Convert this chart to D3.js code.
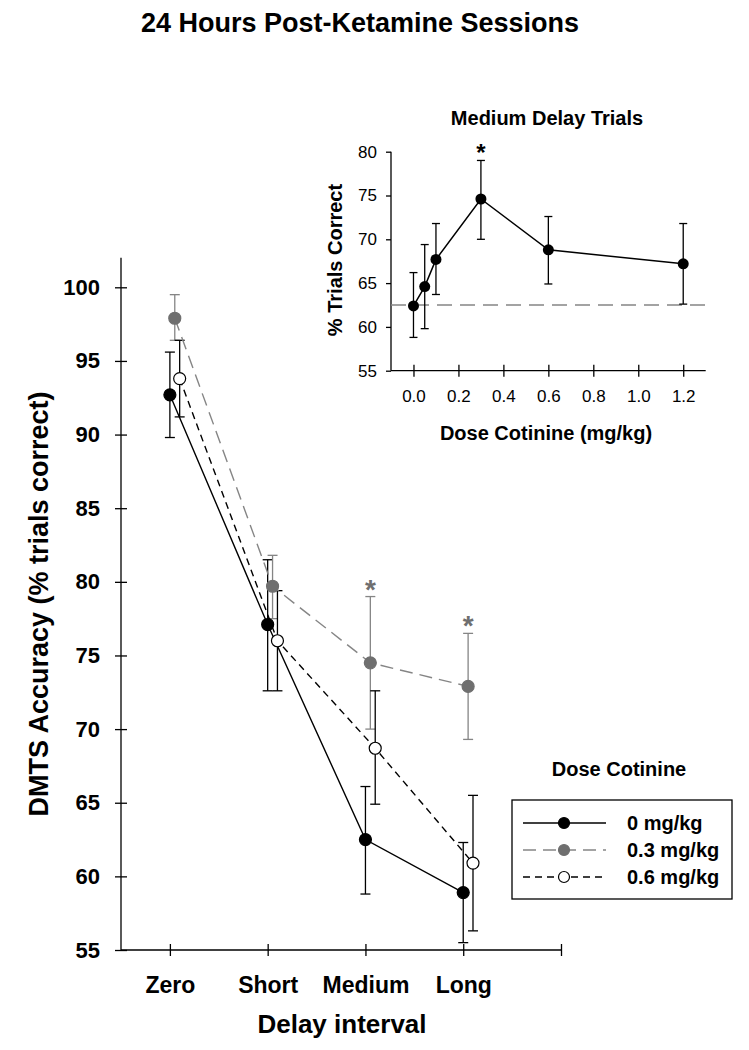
<!DOCTYPE html>
<html>
<head>
<meta charset="utf-8">
<script src="https://cdn.jsdelivr.net/npm/d3@7"></script>
<style>
  html, body { margin: 0; padding: 0; background: #fff; }
  svg { display: block; font-family: "Liberation Sans", Arial, sans-serif; }
</style>
</head>
<body>
<svg id="chart" width="749" height="1050"></svg>
<script>
// ---------- Main chart data ----------
const categories = ["Zero", "Short", "Medium", "Long"];
const seriesNames = ["0 mg/kg", "0.3 mg/kg", "0.6 mg/kg"];
const yTicksMain = [55, 60, 65, 70, 75, 80, 85, 90, 95, 100];

const mean0  = [92.7, 77.1, 62.5, 58.9];
const hi0    = [95.6, 81.5, 66.1, 62.3];
const lo0    = [89.8, 72.6, 58.8, 55.5];

const mean03 = [97.9, 79.7, 74.5, 72.9];
const hi03   = [99.5, 81.8, 79.0, 76.5];
const lo03   = [96.4, 77.5, 70.0, 69.3];

const mean06 = [93.8, 76.0, 68.7, 60.9];
const hi06   = [96.4, 79.4, 72.6, 65.5];
const lo06   = [91.2, 72.6, 64.9, 56.3];

const sigMain = ["Medium", "Long"]; // asterisks for 0.3 mg/kg

// ---------- Inset data ----------
const doses     = [0, 0.05, 0.1, 0.3, 0.6, 1.2];
const insetMean = [62.4, 64.6, 67.7, 74.6, 68.8, 67.2];
const insetHi   = [66.2, 69.4, 71.8, 79.0, 72.6, 71.8];
const insetLo   = [58.8, 59.8, 63.7, 70.0, 64.9, 62.6];
const insetBaseline = 62.5;
const insetXTicks = [0, 0.2, 0.4, 0.6, 0.8, 1.0, 1.2];
const insetYTicks = [55, 60, 65, 70, 75, 80];
const sigInset = [0.3];

// ---------- Setup ----------
const svg = d3.select("#chart");
const BLACK = "#000";
const GRAYM = "#6f6f6f";
const GRAYL = "#858585";

// Main scales
const x = d3.scaleLinear().domain([0.5, 5]).range([121, 561]);
const y = d3.scaleLinear().domain([55, 100]).range([950, 287.3]);

// Title
svg.append("text").attr("x", 360).attr("y", 32).attr("text-anchor", "middle")
  .attr("font-size", 27).attr("font-weight", "bold").text("24 Hours Post-Ketamine Sessions");

// Main axes
svg.append("line").attr("x1", x(0.5)).attr("x2", x(0.5))
  .attr("y1", y(102)).attr("y2", y(55)).attr("stroke", BLACK).attr("stroke-width", 1.3);
svg.append("line").attr("x1", x(0.5)).attr("x2", x(5))
  .attr("y1", y(55)).attr("y2", y(55)).attr("stroke", BLACK).attr("stroke-width", 1.3);

const yAxisG = svg.append("g").attr("transform", `translate(${x(0.5)},0)`)
  .call(d3.axisLeft(y).tickValues(yTicksMain).tickSize(6).tickPadding(15).tickFormat(d3.format("d")));
yAxisG.select(".domain").remove();
yAxisG.selectAll(".tick line").attr("x1", 6).attr("x2", -6).attr("stroke-width", 1.3);
yAxisG.selectAll(".tick text").attr("font-size", 22).attr("font-weight", "bold")
  .attr("font-family", "Liberation Sans, Arial, sans-serif").attr("fill", BLACK);

const xAxisG = svg.append("g").attr("transform", `translate(0,${y(55)})`)
  .call(d3.axisBottom(x).tickValues([1, 2, 3, 4, 5]).tickSize(6).tickPadding(21)
    .tickFormat(d => categories[d - 1] || ""));
xAxisG.select(".domain").remove();
xAxisG.selectAll(".tick line").attr("y1", -6).attr("y2", 6).attr("stroke-width", 1.3);
xAxisG.selectAll(".tick text").attr("font-size", 23).attr("font-weight", "bold")
  .attr("font-family", "Liberation Sans, Arial, sans-serif").attr("fill", BLACK);

// Axis titles
svg.append("text").attr("x", 342).attr("y", 1033).attr("text-anchor", "middle")
  .attr("font-size", 26).attr("font-weight", "bold").text("Delay interval");
svg.append("text").attr("transform", "translate(48,604) rotate(-90)").attr("text-anchor", "middle")
  .attr("font-size", 27).attr("font-weight", "bold").text("DMTS Accuracy (% trials correct)");

// Series definitions
const series = [
  { name: seriesNames[0], mean: mean0,  hi: hi0,  lo: lo0,  off: 0,   line: BLACK, dash: null,  fill: BLACK, stroke: BLACK, err: BLACK },
  { name: seriesNames[1], mean: mean03, hi: hi03, lo: lo03, off: 0.05, line: GRAYL, dash: "13,7", fill: GRAYM, stroke: GRAYM, err: GRAYL },
  { name: seriesNames[2], mean: mean06, hi: hi06, lo: lo06, off: 0.1,  line: BLACK, dash: "7,5",  fill: "#fff", stroke: BLACK, err: BLACK }
];

const capW = 5;
// Error bars
series.forEach(s => {
  const g = svg.append("g");
  s.mean.forEach((m, i) => {
    const cx = x(i + 1 + s.off);
    g.append("line").attr("x1", cx).attr("x2", cx).attr("y1", y(s.hi[i])).attr("y2", y(s.lo[i]))
      .attr("stroke", s.err).attr("stroke-width", 1.3);
    [s.hi[i], s.lo[i]].forEach(v => {
      g.append("line").attr("x1", cx - capW).attr("x2", cx + capW).attr("y1", y(v)).attr("y2", y(v))
        .attr("stroke", s.err).attr("stroke-width", 1.3);
    });
  });
});
// Lines
series.forEach(s => {
  const line = d3.line().x((d, i) => x(i + 1 + s.off)).y(d => y(d));
  svg.append("path").datum(s.mean).attr("d", line).attr("fill", "none")
    .attr("stroke", s.line).attr("stroke-width", 1.4).attr("stroke-dasharray", s.dash);
});
// Markers
series.forEach(s => {
  svg.append("g").selectAll("circle").data(s.mean).join("circle")
    .attr("cx", (d, i) => x(i + 1 + s.off)).attr("cy", d => y(d)).attr("r", 6)
    .attr("fill", s.fill).attr("stroke", s.stroke).attr("stroke-width", 1.2);
});
// Asterisks (0.3 mg/kg)
sigMain.forEach(c => {
  const i = categories.indexOf(c);
  svg.append("text").attr("x", x(i + 1 + series[1].off)).attr("y", y(hi03[i]) + 2)
    .attr("text-anchor", "middle").attr("font-size", 28).attr("font-weight", "bold")
    .attr("fill", GRAYM).text("*");
});

// Legend
svg.append("text").attr("x", 619).attr("y", 776).attr("text-anchor", "middle")
  .attr("font-size", 20).attr("font-weight", "bold").text("Dose Cotinine");
svg.append("rect").attr("x", 512).attr("y", 800).attr("width", 220).attr("height", 99)
  .attr("fill", "none").attr("stroke", BLACK).attr("stroke-width", 1.3);
const legRows = [823, 850, 877];
series.forEach((s, k) => {
  const ly = legRows[k];
  svg.append("line").attr("x1", 523).attr("x2", 606).attr("y1", ly).attr("y2", ly)
    .attr("stroke", s.line).attr("stroke-width", 1.4).attr("stroke-dasharray", s.dash);
  svg.append("circle").attr("cx", 564).attr("cy", ly).attr("r", 5.5)
    .attr("fill", s.fill).attr("stroke", s.stroke).attr("stroke-width", 1.2);
  svg.append("text").attr("x", 627).attr("y", ly + 7).attr("font-size", 20).attr("font-weight", "bold")
    .text(s.name);
});

// ---------- Inset ----------
const ix = d3.scaleLinear().domain([-0.1, 1.3]).range([391, 705.7]);
const iy = d3.scaleLinear().domain([55, 80]).range([370.7, 151.7]);

svg.append("text").attr("x", 547).attr("y", 125).attr("text-anchor", "middle")
  .attr("font-size", 20).attr("font-weight", "bold").text("Medium Delay Trials");

svg.append("line").attr("x1", ix(-0.1)).attr("x2", ix(-0.1)).attr("y1", iy(80)).attr("y2", iy(55))
  .attr("stroke", BLACK).attr("stroke-width", 1.3);
svg.append("line").attr("x1", ix(-0.1)).attr("x2", ix(1.3)).attr("y1", iy(55)).attr("y2", iy(55))
  .attr("stroke", BLACK).attr("stroke-width", 1.3);

const iyAxis = svg.append("g").attr("transform", `translate(${ix(-0.1)},0)`)
  .call(d3.axisLeft(iy).tickValues(insetYTicks).tickSize(5).tickPadding(9).tickFormat(d3.format("d")));
iyAxis.select(".domain").remove();
iyAxis.selectAll(".tick line").attr("x1", 0).attr("x2", -5).attr("stroke-width", 1.3);
iyAxis.selectAll(".tick text").attr("font-size", 17)
  .attr("font-family", "Liberation Sans, Arial, sans-serif").attr("fill", BLACK);

const ixAxis = svg.append("g").attr("transform", `translate(0,${iy(55)})`)
  .call(d3.axisBottom(ix).tickValues(insetXTicks).tickSize(6).tickPadding(13).tickFormat(d3.format(".1f")));
ixAxis.select(".domain").remove();
ixAxis.selectAll(".tick line").attr("y1", -6).attr("y2", 6).attr("stroke-width", 1.3);
ixAxis.selectAll(".tick text").attr("font-size", 17)
  .attr("font-family", "Liberation Sans, Arial, sans-serif").attr("fill", BLACK);

svg.append("text").attr("x", 546).attr("y", 440).attr("text-anchor", "middle")
  .attr("font-size", 20).attr("font-weight", "bold").text("Dose Cotinine (mg/kg)");
svg.append("text").attr("transform", "translate(342,260) rotate(-90)").attr("text-anchor", "middle")
  .attr("font-size", 20).attr("font-weight", "bold").text("% Trials Correct");

// baseline dashed
svg.append("line").attr("x1", ix(-0.1)).attr("x2", ix(1.3)).attr("y1", iy(insetBaseline)).attr("y2", iy(insetBaseline))
  .attr("stroke", GRAYL).attr("stroke-width", 1.3).attr("stroke-dasharray", "15,8");

// error bars
doses.forEach((d, i) => {
  const cx = ix(d);
  svg.append("line").attr("x1", cx).attr("x2", cx).attr("y1", iy(insetHi[i])).attr("y2", iy(insetLo[i]))
    .attr("stroke", BLACK).attr("stroke-width", 1.3);
  [insetHi[i], insetLo[i]].forEach(v => {
    svg.append("line").attr("x1", cx - 4).attr("x2", cx + 4).attr("y1", iy(v)).attr("y2", iy(v))
      .attr("stroke", BLACK).attr("stroke-width", 1.3);
  });
});
svg.append("path").datum(insetMean)
  .attr("d", d3.line().x((d, i) => ix(doses[i])).y(d => iy(d)))
  .attr("fill", "none").attr("stroke", BLACK).attr("stroke-width", 1.5);
svg.append("g").selectAll("circle").data(insetMean).join("circle")
  .attr("cx", (d, i) => ix(doses[i])).attr("cy", d => iy(d)).attr("r", 5.5).attr("fill", BLACK);
sigInset.forEach(d => {
  const i = doses.indexOf(d);
  svg.append("text").attr("x", ix(d)).attr("y", iy(insetHi[i]) + 1).attr("text-anchor", "middle")
    .attr("font-size", 24).attr("font-weight", "bold").attr("fill", BLACK).text("*");
});
</script>
</body>
</html>
